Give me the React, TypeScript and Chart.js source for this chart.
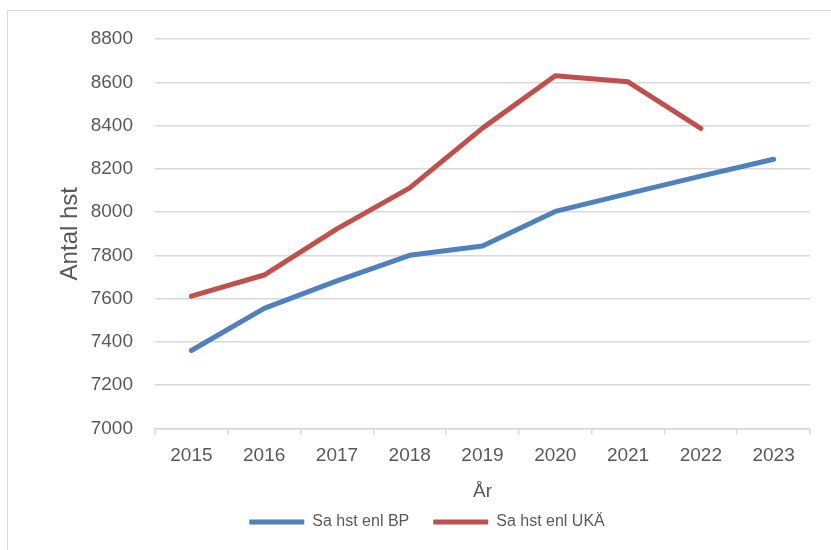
import React, { useEffect, useRef } from "react";
import { Chart, registerables } from "chart.js";

Chart.register(...registerables);

const years = ["2015", "2016", "2017", "2018", "2019", "2020", "2021", "2022", "2023"];
const bpValues = [7360, 7555, 7682, 7800, 7843, 8003, 8085, 8166, 8244];
const ukaValues: (number | null)[] = [7611, 7709, 7922, 8112, 8388, 8630, 8602, 8387, null];
const seriesNames = ["Sa hst enl BP", "Sa hst enl UKÄ"];
const yMin = 7000;
const yMax = 8800;
const yStep = 200;

const FONT = "'Liberation Sans', Arial, sans-serif";
const TEXT = "#595959";
const GRID = "#D9D9D9";

export default function App() {
  const ref = useRef<HTMLCanvasElement | null>(null);
  useEffect(() => {
    if (!ref.current) return;
    const chart = new Chart(ref.current, {
      type: "line",
      data: {
        labels: years,
        datasets: [
          {
            label: seriesNames[0],
            data: bpValues,
            borderColor: "#4F81BD",
            backgroundColor: "#4F81BD",
            borderWidth: 5,
            borderCapStyle: "round",
            borderJoinStyle: "round",
            pointRadius: 0,
            tension: 0,
          },
          {
            label: seriesNames[1],
            data: ukaValues,
            borderColor: "#C0504D",
            backgroundColor: "#C0504D",
            borderWidth: 5,
            borderCapStyle: "round",
            borderJoinStyle: "round",
            pointRadius: 0,
            tension: 0,
          },
        ],
      },
      options: {
        responsive: false,
        animation: false,
        layout: { padding: { left: 44, right: 21, top: 39, bottom: 10 } },
        plugins: {
          tooltip: { enabled: false },
          legend: {
            position: "bottom",
            labels: {
              usePointStyle: true,
              pointStyle: "line",
              pointStyleWidth: 55,
              boxHeight: 16,
              color: TEXT,
              font: { family: FONT, size: 16 },
              padding: 24,
            },
          },
        },
        scales: {
          x: {
            offset: true,
            grid: {
              display: true,
              drawOnChartArea: false,
              drawTicks: true,
              tickLength: 6,
              color: GRID,
              lineWidth: 1.5,
              offset: true,
            },
            border: { display: true, color: GRID, width: 1.5 },
            ticks: {
              color: TEXT,
              font: { family: FONT, size: 19 },
              padding: 10,
              maxRotation: 0,
            },
            title: {
              display: true,
              text: "År",
              color: TEXT,
              font: { family: FONT, size: 19 },
              padding: { top: 3, bottom: -13 },
            },
            afterFit: (s: any) => {
              s.paddingLeft = 0;
              s.paddingRight = 0;
            },
          },
          y: {
            min: yMin,
            max: yMax,
            grid: { color: GRID, lineWidth: 1.5, drawTicks: false },
            border: { display: false },
            ticks: {
              stepSize: yStep,
              color: TEXT,
              font: { family: FONT, size: 19 },
              padding: 22,
              callback: (v: any) => String(v),
            },
            title: {
              display: true,
              text: "Antal hst",
              color: TEXT,
              font: { family: FONT, size: 24 },
              padding: { top: 12, bottom: 0 },
            },
            afterFit: (s: any) => {
              s.width = 111;
              s.paddingTop = 0;
              s.paddingBottom = 0;
            },
          },
        },
      },
    });
    return () => chart.destroy();
  }, []);

  return (
    <div
      style={{
        position: "fixed",
        left: 0,
        top: 0,
        width: 831,
        height: 550,
        overflow: "hidden",
        background: "#fff",
      }}
    >
      <div
        style={{
          position: "absolute",
          left: 7,
          top: 10,
          width: 860,
          height: 600,
          border: "1px solid #D9D9D9",
        }}
      />
      <canvas
        ref={ref}
        width={831}
        height={550}
        style={{ position: "absolute", left: 0, top: 0, width: 831, height: 550 }}
      />
    </div>
  );
}
